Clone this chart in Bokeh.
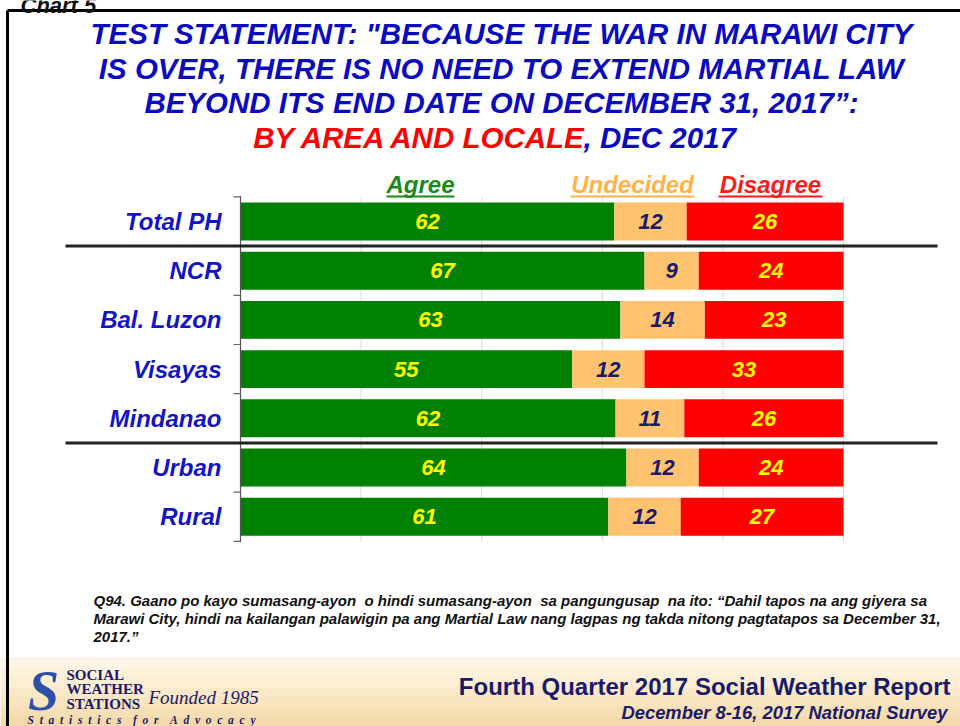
from bokeh.plotting import figure
from bokeh.models import Range1d, Label, ColumnDataSource
from bokeh.core.properties import value
from bokeh.embed import file_html
from bokeh.resources import INLINE

# ---------------- data ----------------
categories = ["Total PH", "NCR", "Bal. Luzon", "Visayas", "Mindanao", "Urban", "Rural"]
agree = [62, 67, 63, 55, 62.2, 64, 61]
undecided = [12, 9, 14, 12, 11.4, 12, 12]
disagree = [26, 24, 23, 33, 26.4, 24, 27]
agree_labels = ["62", "67", "63", "55", "62", "64", "61"]
undecided_labels = ["12", "9", "14", "12", "11", "12", "12"]
disagree_labels = ["26", "24", "23", "33", "26", "24", "27"]
series_names = ["Agree", "Undecided", "Disagree"]
grid_ticks = [20, 40, 60, 80, 100]
separator_rows = [0.5, 4.5]

title_lines = [
    'TEST STATEMENT: "BECAUSE THE WAR IN MARAWI CITY',
    'IS OVER, THERE IS NO NEED TO EXTEND MARTIAL LAW',
    'BEYOND ITS END DATE ON DECEMBER 31, 2017\u201d:',
]
title_red = "BY AREA AND LOCALE"
title_blue_tail = ", DEC 2017"
question_lines = [
    "Q94. Gaano po kayo sumasang-ayon\u00a0 o hindi sumasang-ayon\u00a0 sa pangungusap\u00a0 na ito: \u201cDahil tapos na ang giyera sa",
    "Marawi City, hindi na kailangan palawigin pa ang Martial Law nang lagpas ng takda nitong pagtatapos sa December 31,",
    "2017.\u201d",
]
footer_title = "Fourth Quarter 2017 Social Weather Report"
footer_sub = "December 8-16, 2017 National Survey"
chart_tag = "Chart 5"
logo_lines = ["SOCIAL", "WEATHER", "STATIONS"]
logo_founded = "Founded 1985"
logo_motto = "Statistics for Advocacy"

# ---------------- styling / layout ----------------
W, H = 960, 726
PX = 6.03      # pixels per percentage point
X0 = 240       # page x of 0 %
ROW = 49.2     # pixels per row
Y0 = 221       # page y of first row centre

def dx(X):
    return (X - X0) / PX

def dy(Y):
    return (Y - Y0) / ROW

SANS = "Liberation Sans, Arial, sans-serif"
SERIF = "Liberation Serif, Times New Roman, serif"

GREEN = "#008000"
ORANGE = "#ffc26f"
RED = "#ff0000"
BLUE = "#1414c4"
TBLUE = "#0a0abf"
NAVY = "#1a1a6a"

p = figure(width=W, height=H,
           x_range=Range1d(dx(0), dx(W)),
           y_range=Range1d(dy(H), dy(0)),
           x_axis_location=None, y_axis_location=None,
           output_backend="svg", toolbar_location=None,
           min_border=0, min_border_left=0, min_border_right=0,
           min_border_top=0, min_border_bottom=0)
p.grid.visible = False
p.outline_line_color = None
p.background_fill_color = "white"
p.border_fill_color = "white"

rows = list(range(len(categories)))
src = ColumnDataSource(dict(
    row=rows, cat=categories,
    Agree=agree, Undecided=undecided, Disagree=disagree,
    a_mid=[a / 2 for a in agree],
    u_mid=[a + u / 2 for a, u in zip(agree, undecided)],
    d_mid=[a + u + d / 2 for a, u, d in zip(agree, undecided, disagree)],
    a_lab=agree_labels, u_lab=undecided_labels, d_lab=disagree_labels,
))

# footer background (gradient bands)
band_cols = ["#fdf6e6", "#fcf2dc", "#fbeed2", "#fae9c8", "#f8e4be", "#f6dfb4", "#f4daaa"]
fy0, fy1 = 657, 726
step = (fy1 - fy0) / len(band_cols)
for i, c in enumerate(band_cols):
    p.quad(left=dx(0), right=dx(960), top=dy(fy0 + i * step), bottom=dy(fy0 + (i + 1) * step + 0.5),
           fill_color=c, line_color=None)

# frame lines
p.segment(x0=dx(7), y0=dy(10), x1=dx(960), y1=dy(10), line_color="black", line_width=3)
p.segment(x0=dx(7), y0=dy(10), x1=dx(7), y1=dy(726), line_color="black", line_width=3)

# "Chart 5" tag, cut by the top edge as in the original slide
p.add_layout(Label(x=dx(20), y=dy(5), text=chart_tag, text_align="left", text_baseline="alphabetic",
                   text_font=SANS, text_font_style="bold italic", text_font_size="22px", text_color="#111111"))

# grid lines
p.segment(x0=grid_ticks, y0=[-0.5] * len(grid_ticks), x1=grid_ticks, y1=[len(rows) - 0.5] * len(grid_ticks),
          line_color="#d8d8d8", line_width=1)

# stacked bars
p.hbar_stack(series_names, y="row", height=0.77, source=src,
             color=[GREEN, ORANGE, RED], line_color=None)

# axis line and ticks
p.segment(x0=0, y0=-0.52, x1=0, y1=len(rows) - 0.48, line_color="#555555", line_width=1.2)
bounds = [r - 0.5 for r in rows] + [len(rows) - 0.5]
p.segment(x0=[dx(233)] * len(bounds), y0=bounds, x1=[0] * len(bounds), y1=bounds,
          line_color="#666666", line_width=1.2)

# separators
p.segment(x0=[dx(65)] * len(separator_rows), y0=separator_rows,
          x1=[dx(937)] * len(separator_rows), y1=separator_rows,
          line_color="#222222", line_width=3)

# value labels
common = dict(y="row", source=src, text_align="center", text_baseline="middle",
              text_font=value(SANS), text_font_style="bold italic", text_font_size="22px")
p.text(x="a_mid", text="a_lab", text_color="#ffff00", **common)
p.text(x="u_mid", text="u_lab", text_color=NAVY, **common)
p.text(x="d_mid", text="d_lab", text_color="#ffff00", **common)

# category labels
p.text(x=dx(221), y="row", text="cat", source=src, text_align="right", text_baseline="middle",
       text_font=value(SANS), text_font_style="bold italic", text_font_size="24px", text_color=BLUE)

# legend (underlined)
leg_x = [420, 632, 770]
leg_col = ["#1a8a1a", "#ffb24a", "#ff1a1a"]
leg_half = [34, 62, 52]
for name, X, c, hw in zip(series_names, leg_x, leg_col, leg_half):
    p.add_layout(Label(x=dx(X), y=dy(184), text=name, text_align="center", text_baseline="middle",
                       text_font=SANS, text_font_style="bold italic", text_font_size="24px",
                       text_color=c))
    p.segment(x0=dx(X - hw), y0=dy(196), x1=dx(X + hw), y1=dy(196), line_color=c, line_width=2)

# title
TS = "29.5px"
for i, t in enumerate(title_lines):
    p.add_layout(Label(x=dx(501), y=dy(33 + 34.5 * i), text=t, text_align="center", text_baseline="middle",
                       text_font=SANS, text_font_style="bold italic", text_font_size=TS,
                       text_color=TBLUE))
p.add_layout(Label(x=dx(587), y=dy(137), text=title_red, text_align="right", text_baseline="middle",
                   text_font=SANS, text_font_style="bold italic", text_font_size=TS, text_color=RED))
p.add_layout(Label(x=dx(583), y=dy(137), text=title_blue_tail, text_align="left", text_baseline="middle",
                   text_font=SANS, text_font_style="bold italic", text_font_size=TS, text_color=TBLUE))

# question text
for i, t in enumerate(question_lines):
    p.add_layout(Label(x=dx(93), y=dy(600 + 18 * i), text=t, text_align="left", text_baseline="middle",
                       text_font=SANS, text_font_style="bold italic", text_font_size="15px",
                       text_color="#111111"))

# footer texts
p.add_layout(Label(x=dx(950), y=dy(686), text=footer_title, text_align="right", text_baseline="middle",
                   text_font=SANS, text_font_style="bold", text_font_size="24px", text_color=NAVY))
p.add_layout(Label(x=dx(947), y=dy(712), text=footer_sub, text_align="right", text_baseline="middle",
                   text_font=SANS, text_font_style="bold italic", text_font_size="18.4px", text_color=NAVY))

# logo
p.add_layout(Label(x=dx(43), y=dy(690), text="S", text_align="center", text_baseline="middle",
                   text_font=SERIF, text_font_style="bold italic", text_font_size="56px", text_color="#2f4fa8"))
for i, t in enumerate(logo_lines):
    p.add_layout(Label(x=dx(66), y=dy(674 + 14.5 * i), text=t, text_align="left", text_baseline="middle",
                       text_font=SERIF, text_font_style="bold", text_font_size="15px", text_color=NAVY))
p.add_layout(Label(x=dx(148), y=dy(697), text=logo_founded, text_align="left", text_baseline="middle",
                   text_font=SERIF, text_font_style="italic", text_font_size="19px", text_color=NAVY))
motto_spaced = "\u2002\u2002".join("\u2002".join(w) for w in logo_motto.split(" "))
p.add_layout(Label(x=dx(27), y=dy(719), text=motto_spaced,
                   text_align="left", text_baseline="middle",
                   text_font=SERIF, text_font_style="bold italic", text_font_size="11.5px", text_color=NAVY))

open("out.html", "w").write(file_html(p, INLINE))
